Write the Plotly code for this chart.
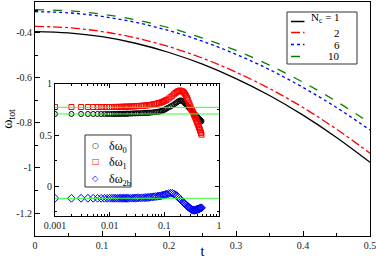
import plotly.graph_objects as go

# ---------------- main panel data ----------------
t_main = [0.0, 0.05, 0.1, 0.15, 0.2, 0.25, 0.3, 0.35, 0.4, 0.45, 0.5]
w_nc1 = [-0.395, -0.401, -0.418, -0.447, -0.488, -0.540, -0.604, -0.679, -0.766, -0.865, -0.975]
w_nc2 = [-0.372, -0.378, -0.395, -0.423, -0.462, -0.513, -0.575, -0.648, -0.732, -0.828, -0.935]
w_nc6 = [-0.307, -0.312, -0.328, -0.354, -0.391, -0.438, -0.496, -0.564, -0.643, -0.732, -0.832]
w_nc10 = [-0.298, -0.303, -0.318, -0.343, -0.378, -0.424, -0.479, -0.544, -0.620, -0.705, -0.801]
legend_names = ["N<sub>c</sub> = 1", "2", "6", "10"]

y_tickvals = [-1.2, -1.0, -0.8, -0.6, -0.4]
y_ticktext = ["-1.2", "-1", "-0.8", "-0.6", "-0.4"]
x_tickvals = [0, 0.1, 0.2, 0.3, 0.4, 0.5]
x_ticktext = ["0", "0.1", "0.2", "0.3", "0.4", "0.5"]

# ---------------- inset data ----------------
t_in = [0.001, 0.002, 0.003, 0.004, 0.005, 0.006, 0.007, 0.008, 0.009, 0.010, 0.011, 0.012,
        0.013, 0.014, 0.015, 0.016, 0.017, 0.018, 0.019, 0.020, 0.021, 0.022,
        0.024, 0.026, 0.028, 0.030, 0.032, 0.034,
        0.037, 0.040, 0.043, 0.046, 0.049, 0.052, 0.055,
        0.060, 0.065, 0.070, 0.075, 0.080, 0.085, 0.090, 0.095, 0.100, 0.105, 0.110,
        0.12, 0.13, 0.14, 0.15, 0.16, 0.17, 0.18, 0.19, 0.20,
        0.21, 0.22, 0.23, 0.24, 0.25, 0.26, 0.27, 0.28, 0.29, 0.30,
        0.31, 0.32, 0.33, 0.34, 0.35, 0.36, 0.37, 0.38, 0.39, 0.40,
        0.41, 0.42, 0.43, 0.44, 0.45, 0.46, 0.47, 0.48]
dw0 = [0.707, 0.707, 0.707, 0.707, 0.707, 0.707, 0.707, 0.707, 0.707, 0.707, 0.707, 0.707,
       0.707, 0.708, 0.708, 0.708, 0.709, 0.709, 0.709, 0.710, 0.710, 0.710,
       0.711, 0.712, 0.713, 0.713, 0.714, 0.714,
       0.715, 0.716, 0.717, 0.718, 0.718, 0.719, 0.720,
       0.722, 0.724, 0.726, 0.728, 0.730, 0.734, 0.738, 0.743, 0.748, 0.754, 0.760,
       0.770, 0.780, 0.790, 0.800, 0.810, 0.820, 0.830, 0.835, 0.840,
       0.835, 0.830, 0.820, 0.810, 0.800, 0.790, 0.780, 0.770, 0.765, 0.755,
       0.745, 0.735, 0.730, 0.720, 0.710, 0.705, 0.700, 0.690, 0.685, 0.680,
       0.670, 0.665, 0.660, 0.655, 0.650, 0.645, 0.640, 0.635]
dw1 = [0.775, 0.775, 0.775, 0.775, 0.775, 0.775, 0.775, 0.775, 0.775, 0.775, 0.775, 0.775,
       0.776, 0.776, 0.776, 0.777, 0.777, 0.777, 0.778, 0.778, 0.778, 0.779,
       0.780, 0.781, 0.782, 0.783, 0.784, 0.785,
       0.786, 0.788, 0.789, 0.790, 0.792, 0.793, 0.795,
       0.800, 0.803, 0.806, 0.810, 0.813, 0.817, 0.822, 0.827, 0.833, 0.839, 0.845,
       0.857, 0.870, 0.885, 0.900, 0.912, 0.923, 0.930, 0.935, 0.935,
       0.930, 0.925, 0.915, 0.900, 0.885, 0.865, 0.845, 0.820, 0.800, 0.780,
       0.760, 0.745, 0.730, 0.715, 0.700, 0.685, 0.670, 0.655, 0.640, 0.625,
       0.610, 0.595, 0.580, 0.565, 0.550, 0.535, 0.520, 0.505]
dw2b = [-0.117, -0.117, -0.117, -0.117, -0.117, -0.117, -0.117, -0.117, -0.117, -0.117, -0.117, -0.117,
        -0.117, -0.117, -0.117, -0.117, -0.117, -0.117, -0.117, -0.117, -0.117, -0.117,
        -0.116, -0.116, -0.115, -0.115, -0.114, -0.114,
        -0.113, -0.112, -0.111, -0.110, -0.109, -0.108, -0.107,
        -0.104, -0.102, -0.100, -0.098, -0.095, -0.093, -0.090, -0.087, -0.084, -0.081, -0.078,
        -0.072, -0.068, -0.068, -0.075, -0.083, -0.093, -0.105, -0.118, -0.130,
        -0.142, -0.153, -0.163, -0.173, -0.182, -0.190, -0.198, -0.205, -0.212, -0.218,
        -0.224, -0.229, -0.232, -0.234, -0.235, -0.234, -0.232, -0.230, -0.228, -0.226,
        -0.224, -0.222, -0.220, -0.218, -0.216, -0.214, -0.212, -0.210]
ref_levels = [0.772, 0.707, -0.117]
inset_names = ["δω<sub>0</sub>", "δω<sub>1</sub>", "δω<sub>2b</sub>"]
inset_glyphs = ["○", "□", "◇"]
in_x_tickvals = [0.001, 0.01, 0.1, 1]
in_x_ticktext = ["0.001", "0.01", "0.1", "1"]
in_y_tickvals = [0, 0.5, 1]
in_y_ticktext = ["0", "0.5", "1"]
in_x_minor = [m * d for d in (0.001, 0.01, 0.1) for m in range(2, 10)]

FONT = "Liberation Serif, Times New Roman, serif"

# layout geometry (pixels)
W, H = 376, 259
ML, MR, MT, MB = 35, 6, 2, 23
PW, PH = W - ML - MR, H - MT - MB


def px(x):
    return (x - ML) / PW


def py(y):
    return (H - MB - y) / PH


fig = go.Figure()

styles = [("black", "solid"), ("red", "dashdot"), ("blue", "dot"), ("green", "dash")]
for name, ys, (col, dash) in zip(legend_names, [w_nc1, w_nc2, w_nc6, w_nc10], styles):
    fig.add_trace(go.Scatter(x=t_main, y=ys, mode="lines", name=name, showlegend=False,
                             line=dict(color=col, dash=dash, width=1.3, shape="spline"),
                             xaxis="x", yaxis="y"))

msty = [("black", "circle-open", 5), ("red", "square-open", 5), ("blue", "diamond-open", 6)]
for name, ys, (col, sym, sz) in zip(inset_names, [dw0, dw1, dw2b], msty):
    fig.add_trace(go.Scatter(x=t_in, y=ys, mode="markers", name=name, showlegend=False,
                             marker=dict(color=col, symbol=sym, size=sz, line=dict(width=1, color=col)),
                             xaxis="x2", yaxis="y2"))

for lv in ref_levels:
    fig.add_shape(type="line", xref="x2 domain", x0=0, x1=1, yref="y2", y0=lv, y1=lv,
                  line=dict(color="#33ff33", width=1), layer="above")

# ---- main legend (drawn by hand for compact xmgrace look) ----
fig.add_shape(type="rect", xref="paper", yref="paper", x0=px(287), x1=px(357), y0=py(64), y1=py(12),
              line=dict(color="#333", width=1), fillcolor="white", layer="above")
row_y = [21.5, 32.5, 44.5, 56.5]
text_y = [18.5, 32.5, 44.5, 56.5]
for name, (col, dash), ly, ty in zip(legend_names, styles, row_y, text_y):
    fig.add_shape(type="line", xref="paper", yref="paper", x0=px(291), x1=px(304.5), y0=py(ly), y1=py(ly),
                  line=dict(color=col, dash=dash, width=1.5), layer="above")
    fig.add_annotation(xref="paper", yref="paper", x=px(340.5), y=py(ty), text=name, showarrow=False,
                       xanchor="right", yanchor="middle", borderpad=0,
                       font=dict(family=FONT, size=11, color="black"))

# ---- inset legend ----
fig.add_shape(type="rect", xref="paper", yref="paper", x0=px(85), x1=px(131), y0=py(187), y1=py(135),
              line=dict(color="#333", width=1), fillcolor="white", layer="above")
inset_rows = [145.5, 161.7, 178.3]
for name, glyph, (col, sym, sz), ry in zip(inset_names, inset_glyphs, msty, inset_rows):
    fig.add_annotation(xref="paper", yref="paper", x=px(95.7), y=py(ry), text=glyph, showarrow=False,
                       xanchor="center", yanchor="middle", font=dict(family="DejaVu Sans", size=8, color=col))
    fig.add_annotation(xref="paper", yref="paper", x=px(107), y=py(ry + 1.5), text=name, showarrow=False,
                       xanchor="left", yanchor="middle", font=dict(family=FONT, size=12, color="black"))

axis_common = dict(showgrid=False, zeroline=False, showline=True, linecolor="black",
                   linewidth=1, ticks="inside", tickcolor="black", ticklabeloverflow="allow",
                   tickfont=dict(family=FONT, size=10, color="#222"))

fig.update_layout(
    width=W, height=H, autosize=False,
    margin=dict(l=ML, r=MR, t=MT, b=MB, autoexpand=False),
    paper_bgcolor="white", plot_bgcolor="white",
    font=dict(family=FONT, color="black"),
    showlegend=False,
    xaxis=dict(domain=[0, 1], range=[0, 0.5], tickvals=x_tickvals, ticktext=x_ticktext,
               ticklen=5, mirror=True,
               minor=dict(ticks="inside", dtick=0.05, ticklen=3, tickcolor="black"),
               title=dict(text="t", font=dict(family=FONT, size=14), standoff=2),
               **axis_common),
    yaxis=dict(domain=[0, 1], range=[-1.302, -0.264], tickvals=y_tickvals, ticktext=y_ticktext,
               ticklen=5, mirror=True,
               minor=dict(ticks="inside", dtick=0.1, tick0=-1.3, ticklen=3, tickcolor="black"),
               title=dict(text="ω<sub>tot</sub>", font=dict(family=FONT, size=14), standoff=4),
               **axis_common),
    xaxis2=dict(domain=[0.0597, 0.549], type="log", range=[-3, 0], anchor="y2",
                tickvals=in_x_tickvals, ticktext=in_x_ticktext, ticklen=4, mirror="ticks",
                minor=dict(ticks="inside", tickvals=in_x_minor, ticklen=2, tickcolor="black"),
                **axis_common),
    yaxis2=dict(domain=[0.0855, 0.6496], range=[-0.29, 1.0], anchor="x2",
                tickvals=in_y_tickvals, ticktext=in_y_ticktext, ticklen=4, mirror="ticks",
                minor=dict(ticks="inside", dtick=0.25, tick0=0, ticklen=2, tickcolor="black"),
                **axis_common),
)

fig.write_html("out.html", config={"displayModeBar": False},
               post_script="document.body.style.margin='0';document.body.style.padding='0';")
